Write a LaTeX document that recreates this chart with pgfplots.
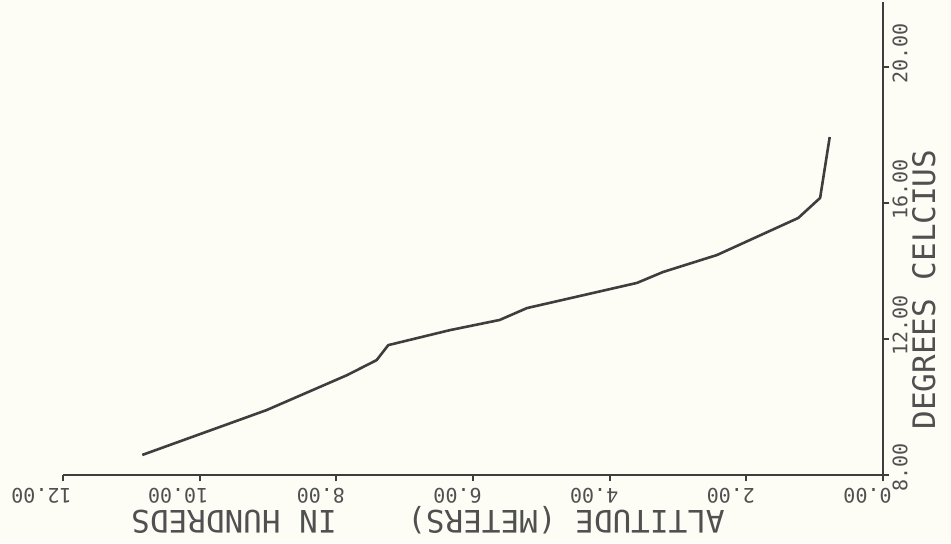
\documentclass[border=0pt]{standalone}
\usepackage{fontspec}
\setmainfont{DejaVu Sans Mono}
\usepackage{pgfplots}
\pgfplotsset{compat=1.18}
\usetikzlibrary{calc,backgrounds}
\definecolor{bg}{RGB}{253,253,246}
\definecolor{ink}{RGB}{62,62,62}
\definecolor{txt}{RGB}{80,80,80}
\begin{document}
\begin{tikzpicture}
\begin{axis}[
  scale only axis, width=410pt, height=236.3pt,
  xmin=0, xmax=12, ymin=8, ymax=21.9,
  x dir=reverse,
  axis x line*=bottom, axis y line*=right,
  axis line style={ink, line width=0.9pt},
  xtick={0,2,4,6,8,10,12}, ytick={8,12,16,20},
  tick align=outside, major tick length=3.2pt,
  tick style={ink, line width=0.9pt},
  /pgf/number format/.cd, fixed, fixed zerofill, precision=2, assume math mode=true, /pgfplots/.cd,
  xticklabel style={font=\fontsize{10}{10}\selectfont, text=txt, inner sep=0pt, xshift=4.5pt, yshift=-3.5pt, rotate=180, anchor=base west},
  yticklabel style={font=\fontsize{10}{10}\selectfont, text=txt, inner sep=0pt, xshift=9pt, yshift=-8.5pt, rotate=90, anchor=base west},
  clip=false,
]
\addplot[ink, line width=1.3pt, line join=round] coordinates {
  (10.84,8.59) (9.02,9.91) (7.84,10.94) (7.41,11.38) (7.24,11.82)
  (6.34,12.26) (5.61,12.56) (5.21,12.91) (3.60,13.65) (3.22,13.97)
  (2.43,14.47) (1.24,15.56) (0.92,16.15) (0.78,17.94)
};
\end{axis}
\node[rotate=180, anchor=base west, inner sep=0pt, text=txt, font=\fontsize{15.5}{15.5}\selectfont]
  at ($(current axis.south east)+(-79pt,-17.5pt)$) {ALTITUDE (METERS)};
\node[rotate=180, anchor=base west, inner sep=0pt, text=txt, font=\fontsize{15.5}{15.5}\selectfont]
  at ($(current axis.south east)+(-273pt,-17.5pt)$) {IN HUNDREDS};
\node[rotate=90, anchor=base west, inner sep=0pt, text=txt, font=\fontsize{15.5}{15.5}\selectfont]
  at ($(current axis.south east)+(26pt,22.5pt)$) {DEGREES CELCIUS};
\coordinate (bbsw) at ($(current axis.south west)+(-31.5pt,-34pt)$);
\coordinate (bbne) at ($(current axis.north east)+(34pt,1.2pt)$);
\begin{scope}[on background layer]
  \fill[bg] (bbsw) rectangle (bbne);
\end{scope}
\pgfresetboundingbox
\useasboundingbox (bbsw) rectangle (bbne);
\end{tikzpicture}
\end{document}
